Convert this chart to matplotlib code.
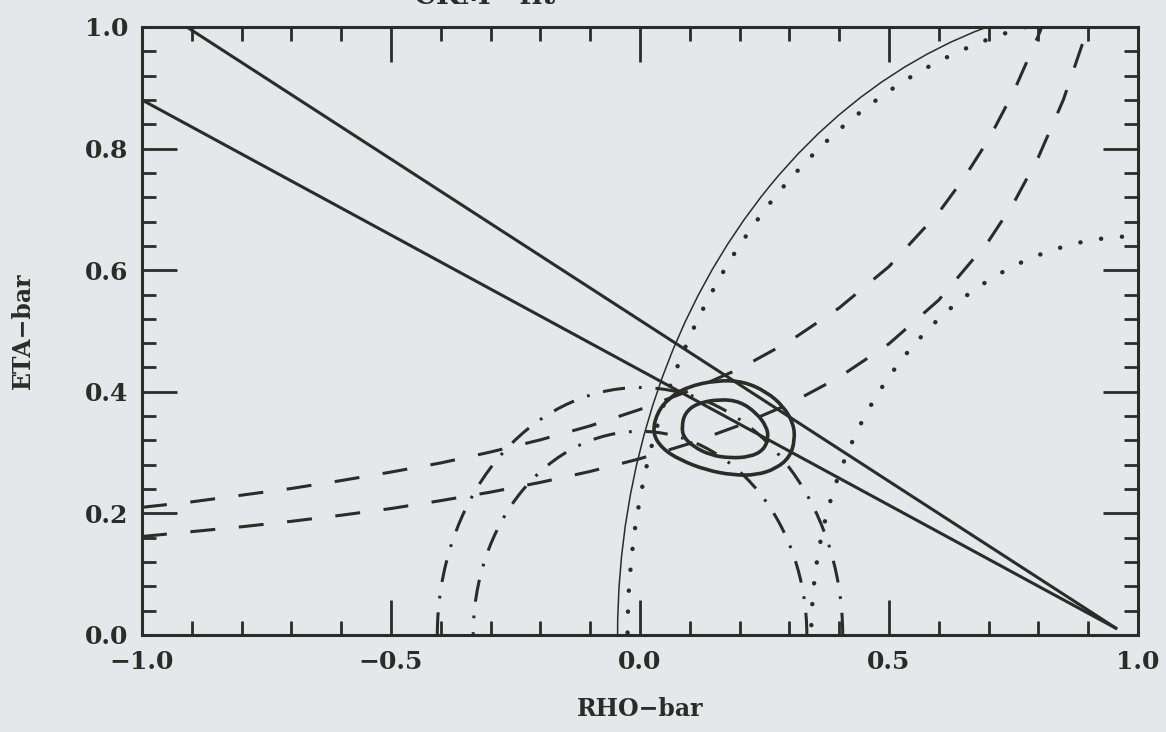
import numpy as np
import matplotlib
matplotlib.use("Agg")
import matplotlib.pyplot as plt
from matplotlib.patches import Arc, PathPatch
from matplotlib.path import Path
from matplotlib.ticker import MultipleLocator, FuncFormatter

plt.rcParams["font.family"] = "DejaVu Serif"
plt.rcParams["font.weight"] = "bold"
plt.rcParams["axes.labelweight"] = "bold"
plt.rcParams["lines.scale_dashes"] = False

ink = "#2c2c27"
paper = "#e4e8eb"

# sin(2 beta) lines, (rho, eta) end points
beta_lines = [
    [(-0.91, 1.00), (0.958, 0.010)],
    [(-1.00, 0.88), (0.958, 0.010)],
]

# circles about (1, 0)
dmd_solid_radius = 1.045
dmd_dotted_radii = [1.025, 0.656]

# |Vub/Vcb| circles about the origin
vub_radii = [0.407, 0.335]

# epsilon_K hyperbola band
epsk_rho_hi = [-1.0, -0.9, -0.8, -0.7, -0.6, -0.5, -0.4, -0.3, -0.2, -0.1, 0.0,
               0.1, 0.2, 0.3, 0.4, 0.5, 0.6, 0.65, 0.7, 0.75, 0.8, 0.81]
epsk_eta_hi = [0.210, 0.219, 0.230, 0.241, 0.254, 0.268, 0.283, 0.301, 0.321, 0.344, 0.371,
               0.402, 0.438, 0.483, 0.538, 0.606, 0.695, 0.751, 0.815, 0.893, 0.986, 1.007]
epsk_rho_lo = [-1.0, -0.9, -0.8, -0.7, -0.6, -0.5, -0.4, -0.3, -0.2, -0.1, 0.0,
               0.1, 0.2, 0.3, 0.4, 0.5, 0.6, 0.7, 0.75, 0.8, 0.85, 0.9]
epsk_eta_lo = [0.162, 0.170, 0.178, 0.187, 0.197, 0.208, 0.221, 0.235, 0.251, 0.269, 0.290,
               0.315, 0.345, 0.380, 0.424, 0.479, 0.551, 0.648, 0.710, 0.786, 0.880, 1.000]

# fit contours
outer_rho = [0.025, 0.034, 0.057, 0.094, 0.154, 0.208, 0.254, 0.288, 0.308,
             0.311, 0.301, 0.274, 0.234, 0.187, 0.134, 0.080, 0.044]
outer_eta = [0.332, 0.365, 0.389, 0.408, 0.419, 0.417, 0.400, 0.376, 0.348,
             0.321, 0.293, 0.274, 0.263, 0.263, 0.271, 0.288, 0.307]
inner_rho = [0.084, 0.090, 0.114, 0.161, 0.201, 0.234, 0.254, 0.258, 0.248,
             0.221, 0.181, 0.141, 0.107, 0.087]
inner_eta = [0.343, 0.365, 0.381, 0.388, 0.384, 0.365, 0.343, 0.324, 0.304,
             0.293, 0.291, 0.296, 0.310, 0.326]


def smooth_loop(rho, eta):
    pts = np.column_stack([rho, eta])
    mids = (pts + np.roll(pts, -1, axis=0)) / 2
    verts = [mids[-1]]
    codes = [Path.MOVETO]
    for p, m in zip(pts, mids):
        verts += [p, m]
        codes += [Path.CURVE3, Path.CURVE3]
    return Path(verts, codes)


dashed = (0, (18, 17))
dotted = (0, (0.1, 15))
dashdot = (0, (16, 10, 2, 10))

fig = plt.figure(figsize=(11.66, 7.32), dpi=100, facecolor=paper)
ax = fig.add_axes([142 / 1166, 1 - 635 / 732, 996 / 1166, 608 / 732])
ax.set_facecolor(paper)

# straight lines
for (x0, y0), (x1, y1) in beta_lines:
    ax.plot([x0, x1], [y0, y1], color=ink, lw=2.2, solid_capstyle="butt")

# circles centred on (1, 0)
ax.add_patch(Arc((1, 0), 2 * dmd_solid_radius, 2 * dmd_solid_radius,
                 theta1=0, theta2=180, color=ink, lw=1.1))
for r in dmd_dotted_radii:
    ax.add_patch(Arc((1, 0), 2 * r, 2 * r, theta1=0, theta2=180, color=ink,
                     lw=3.2, linestyle=dotted, capstyle="round"))

# circles centred on the origin
for r in vub_radii:
    ax.add_patch(Arc((0, 0), 2 * r, 2 * r, theta1=0, theta2=180, color=ink,
                     lw=2.2, linestyle=dashdot, capstyle="butt"))

# hyperbola band
for rho, eta in [(epsk_rho_hi, epsk_eta_hi), (epsk_rho_lo, epsk_eta_lo)]:
    ax.plot(rho, eta, color=ink, lw=2.2, linestyle=dashed, dash_capstyle="butt")

# contours
for rho, eta in [(outer_rho, outer_eta), (inner_rho, inner_eta)]:
    ax.add_patch(PathPatch(smooth_loop(rho, eta), facecolor="none",
                           edgecolor=ink, lw=2.6))

ax.set_xlim(-1, 1)
ax.set_ylim(0, 1)
ax.xaxis.set_major_locator(MultipleLocator(0.5))
ax.xaxis.set_minor_locator(MultipleLocator(0.1))
ax.yaxis.set_major_locator(MultipleLocator(0.2))
ax.yaxis.set_minor_locator(MultipleLocator(0.04))
fmt = FuncFormatter(lambda v, pos: f"{v:.1f}".replace("-", "\u2212"))
ax.xaxis.set_major_formatter(fmt)
ax.yaxis.set_major_formatter(fmt)
ax.tick_params(which="both", direction="in", top=True, right=True,
               color=ink, width=2, labelcolor=ink, labelsize=18)
ax.tick_params(which="major", length=25)
ax.tick_params(which="minor", length=10)
ax.tick_params(axis="x", pad=11)
ax.tick_params(axis="y", pad=10)
for s in ax.spines.values():
    s.set_linewidth(2.2)
    s.set_color(ink)

ax.set_xlabel("RHO\u2212bar", fontsize=17, color=ink, labelpad=16)
ax.set_ylabel("ETA\u2212bar", fontsize=17, color=ink, labelpad=36)

fig.text(0.416, 1 - 4 / 732, "CKM   fit", ha="center", va="baseline",
         fontsize=20, color=ink)

fig.savefig("out.png", dpi=100, facecolor=paper)
